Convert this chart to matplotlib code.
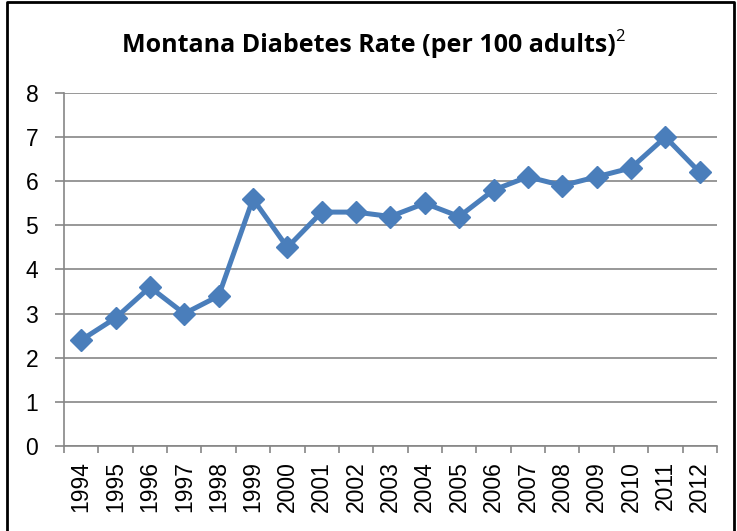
import matplotlib
matplotlib.use("Agg")
import matplotlib.pyplot as plt
from matplotlib.lines import Line2D

years = [str(y) for y in range(1994, 2013)]
rates = [2.4, 2.9, 3.6, 3.0, 3.4, 5.6, 4.5, 5.3, 5.3, 5.2, 5.5, 5.2, 5.8, 6.1, 5.9, 6.1, 6.3, 7.0, 6.2]

plt.rcParams['font.family'] = ['Liberation Sans', 'DejaVu Sans']

fig = plt.figure(figsize=(7.37, 5.31), dpi=100)
ax = fig.add_axes([0.0868, 0.160, 0.886, 0.665])

x = list(range(len(years)))
ax.plot(x, rates, color='#4A7EBB', linewidth=3.6, marker='D', markersize=11.5,
        markerfacecolor='#4A7EBB', markeredgecolor='#4A7EBB', zorder=3)

ax.set_xlim(-0.5, len(years) - 0.5)
ax.set_ylim(0, 8)
ax.set_yticks(range(0, 9))
ax.grid(axis='y', color='#868686', linewidth=1.2)
ax.set_axisbelow(True)

ax.set_xticks(x)
ax.set_xticklabels(years, rotation=90, fontsize=16.5)
ax.tick_params(axis='x', length=0, pad=11)
ax.set_xticks([i - 0.5 for i in range(len(years) + 1)], minor=True)
ax.tick_params(axis='x', which='minor', length=5, color='#868686', width=1.2)
ax.tick_params(axis='y', labelsize=16.5, length=6.5, color='#868686', width=1.2, pad=12)

for s in ['top', 'right']:
    ax.spines[s].set_visible(False)
for s in ['left', 'bottom']:
    ax.spines[s].set_color('#868686')
    ax.spines[s].set_linewidth(1.2)

title = fig.text(0.5, 0.915, 'Montana Diabetes Rate (per 100 adults)', ha='center', va='center',
                 fontsize=18, fontweight='bold', family=['Open Sans', 'DejaVu Sans'])
fig.canvas.draw()
bb = title.get_window_extent().transformed(fig.transFigure.inverted())
fig.text(bb.x1 - 0.001, 0.93, '2', ha='left', va='center', fontsize=12,
         family=['Open Sans', 'DejaVu Sans'])

# outer frame (left, top, right)
fig.add_artist(Line2D([0.0095, 0.0095, 0.9965, 0.9965], [0.0, 0.996, 0.996, 0.0],
                      transform=fig.transFigure, color='black', linewidth=2))

fig.savefig('out.png', dpi=100)
